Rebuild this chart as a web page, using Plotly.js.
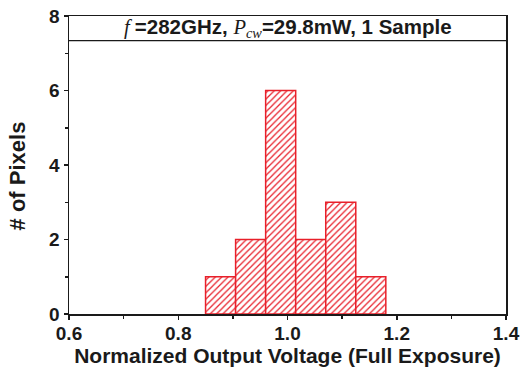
<!DOCTYPE html>
<html>
<head>
<meta charset="utf-8">
<script src="https://cdn.plot.ly/plotly-3.0.1.min.js"></script>
<style>html,body{margin:0;padding:0;background:#fff;}#chart{width:520px;height:371px;}</style>
</head>
<body>
<div id="chart"></div>
<script>
const binCenters = [0.8775, 0.9325, 0.9875, 1.0425, 1.0975, 1.1525];
const binWidth = 0.055;
const counts = [1, 2, 6, 2, 3, 1];
const xTickVals = [0.6, 0.8, 1.0, 1.2, 1.4];
const xTickText = ['0.6', '0.8', '1.0', '1.2', '1.4'];
const yTickVals = [0, 2, 4, 6, 8];
const xTitle = 'Normalized Output Voltage (Full Exposure)';
const yTitle = '# of Pixels';
const headerText = '<span style="font-family:\'Liberation Serif\';font-style:italic;font-weight:normal">f </span>=282GHz, <span style="font-family:\'Liberation Serif\';font-style:italic;font-weight:normal">P<sub>cw</sub></span>=29.8mW, 1 Sample';

const red = '#e8202a';
const dark = '#1a1a1a';
const trace = {
  type: 'bar',
  x: binCenters,
  y: counts,
  width: counts.map(() => binWidth),
  marker: {
    color: '#ffffff',
    line: {color: red, width: 1.5},
    pattern: {shape: '/', fgcolor: red, bgcolor: '#ffffff', size: 4.5, solidity: 0.28}
  },
  hoverinfo: 'none'
};

const fam = 'Liberation Sans, Arial, sans-serif';

const layout = {
  width: 520, height: 371,
  margin: {l: 69, r: 14, t: 16, b: 57},
  paper_bgcolor: '#ffffff', plot_bgcolor: '#ffffff',
  showlegend: false,
  font: {family: fam, color: dark, size: 18, weight: 'bold'},
  xaxis: {
    range: [0.6, 1.4], tickvals: xTickVals, ticktext: xTickText,
    ticks: 'outside', ticklen: 4, tickwidth: 1.5, tickcolor: dark,
    ticklabelstandoff: -2,
    minor: {dtick: 0.1, tick0: 0.6, ticks: 'outside', ticklen: 3, tickwidth: 1.5, tickcolor: dark},
    showline: true, linecolor: dark, linewidth: 1.5, mirror: true,
    showgrid: false, zeroline: false,
    tickfont: {family: fam, size: 19, weight: 'bold', color: dark},
    title: {text: xTitle, standoff: 2,
      font: {family: fam, size: 21, weight: 'bold', color: dark}}
  },
  yaxis: {
    range: [0, 8], tickvals: yTickVals,
    ticks: 'outside', ticklen: 4, tickwidth: 1.5, tickcolor: dark,
    minor: {dtick: 1, tick0: 0, ticks: 'outside', ticklen: 3, tickwidth: 1.5, tickcolor: dark},
    showline: true, linecolor: dark, linewidth: 1.5, mirror: true,
    showgrid: false, zeroline: false,
    tickfont: {family: fam, size: 19, weight: 'bold', color: dark}
  },
  shapes: [{
    type: 'line', xref: 'paper', yref: 'y', x0: 0, x1: 1, y0: 7.34, y1: 7.34,
    line: {color: dark, width: 1.2}
  }],
  annotations: [{
    xref: 'paper', yref: 'y', x: 0.5, y: 7.67, xanchor: 'center', yanchor: 'middle',
    text: headerText, showarrow: false,
    font: {family: fam, size: 20.5, weight: 'bold', color: dark}
  }, {
    xref: 'paper', yref: 'paper', x: -0.118, y: 0.463, xanchor: 'center', yanchor: 'middle',
    text: yTitle, textangle: -90, showarrow: false,
    font: {family: fam, size: 22, weight: 'bold', color: dark}
  }]
};

Plotly.newPlot('chart', [trace], layout, {staticPlot: true, displayModeBar: false});
</script>
</body>
</html>
